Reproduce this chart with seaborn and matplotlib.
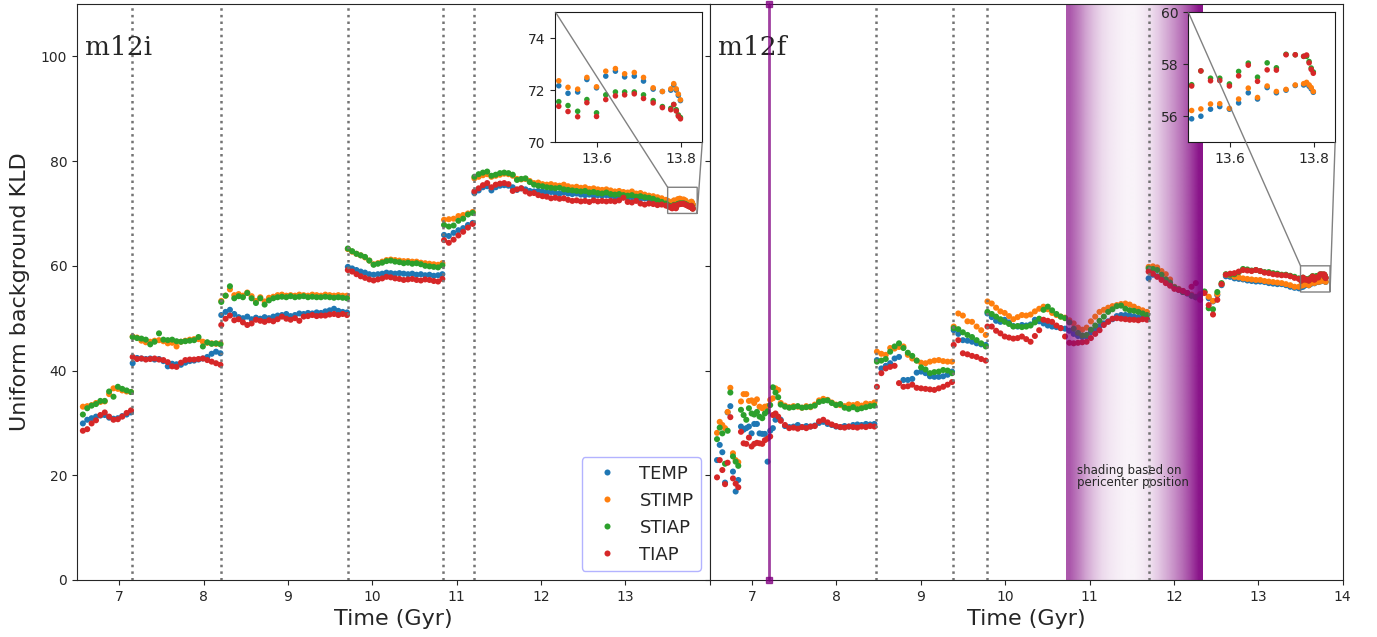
import numpy as np
import pandas as pd
import matplotlib
matplotlib.use("Agg")
import matplotlib.pyplot as plt
import seaborn as sns

# ---------------------------------------------------------------- data
series_names = ["TEMP", "STIMP", "STIAP", "TIAP"]

# ---- m12i (left panel); segments between dotted lines, (start, end) times
m12i_s1_time = (6.57, 7.14)
m12i_s1_TEMP = [29.9, 30.6, 30.9, 31.2, 31.4, 31.5, 31.0, 30.8, 30.9, 31.3, 31.6, 32.0]
m12i_s1_STIMP = [33.1, 33.2, 33.4, 33.8, 34.0, 34.1, 35.5, 36.6, 36.5, 36.2, 36.0, 35.9]
m12i_s1_STIAP = [31.6, 32.8, 33.3, 33.6, 34.2, 34.2, 36.0, 35.0, 36.9, 36.5, 36.2, 35.9]
m12i_s1_TIAP = [28.5, 28.8, 29.9, 30.5, 31.5, 32.0, 31.2, 30.6, 30.7, 31.2, 31.9, 32.4]

m12i_s2_time = (7.16, 8.20)
m12i_s2_TEMP = [41.4, 42.4, 42.3, 42.2, 42.3, 42.1, 42.2, 41.8, 40.8, 41.3, 41.2, 41.1, 41.5, 41.8, 41.9, 42.1, 42.3, 42.6, 43.2, 43.6, 43.3]
m12i_s2_STIMP = [46.5, 46.3, 45.7, 45.4, 45.5, 45.7, 45.8, 45.6, 45.2, 45.3, 44.6, 45.5, 45.7, 45.9, 46.0, 46.0, 45.5, 45.3, 45.2, 45.1, 45.2]
m12i_s2_STIAP = [46.4, 46.2, 46.1, 45.9, 45.0, 45.5, 47.1, 45.9, 45.8, 45.9, 45.6, 45.5, 45.6, 45.7, 45.8, 46.4, 44.6, 45.4, 45.1, 45.2, 45.0]
m12i_s2_TIAP = [42.6, 42.2, 42.3, 42.1, 42.2, 42.3, 42.1, 42.0, 41.6, 40.8, 40.7, 41.5, 42.0, 42.1, 42.1, 42.2, 42.3, 42.0, 41.7, 41.4, 41.1]

m12i_s3_time = (8.21, 9.70)
m12i_s3_TEMP = [50.6, 51.2, 51.6, 50.8, 50.2, 50.0, 50.3, 49.8, 50.1, 49.9, 50.2, 50.0, 50.3, 50.5, 50.6,
                50.8, 50.4, 50.6, 50.9, 50.8, 51.0, 50.9, 51.1, 51.0, 51.3, 51.5, 51.8, 51.4, 51.2, 51.1]
m12i_s3_STIMP = [53.3, 54.3, 55.5, 54.4, 54.6, 54.3, 54.9, 54.2, 53.3, 54.0, 53.2, 53.9, 54.1, 54.4, 54.5,
                 54.3, 54.4, 54.3, 54.5, 54.4, 54.3, 54.5, 54.4, 54.3, 54.5, 54.4, 54.3, 54.4, 54.3, 54.3]
m12i_s3_STIAP = [53.1, 54.3, 56.1, 53.8, 54.2, 54.0, 54.8, 53.8, 52.9, 53.8, 52.6, 53.4, 53.8, 54.0, 54.1,
                 54.0, 54.2, 54.0, 54.1, 54.2, 54.0, 54.1, 54.0, 54.0, 54.1, 54.0, 53.9, 54.0, 53.9, 53.8]
m12i_s3_TIAP = [48.7, 49.9, 50.5, 49.6, 49.8, 49.2, 48.7, 49.0, 49.7, 49.5, 49.3, 49.6, 49.4, 49.8, 50.3,
                49.9, 49.7, 50.0, 49.5, 50.3, 50.4, 50.6, 50.4, 50.5, 50.5, 50.7, 50.8, 50.6, 50.8, 50.6]

m12i_s4_time = (9.71, 10.83)
m12i_s4_TEMP = [59.8, 59.5, 59.2, 58.9, 58.7, 58.4, 58.3, 58.4, 58.5, 58.7, 58.6, 58.5, 58.6, 58.5, 58.4,
                58.5, 58.3, 58.4, 58.2, 58.3, 58.1, 58.2, 58.4]
m12i_s4_STIMP = [63.2, 62.7, 62.3, 62.0, 61.6, 61.0, 60.3, 60.5, 60.8, 61.1, 61.2, 61.1, 61.0, 60.9, 60.9,
                 60.8, 60.8, 60.6, 60.5, 60.4, 60.3, 60.2, 60.5]
m12i_s4_STIAP = [63.3, 62.8, 62.3, 62.0, 61.7, 61.0, 60.2, 60.4, 60.6, 60.9, 61.0, 60.8, 60.7, 60.5, 60.6,
                 60.4, 60.5, 60.3, 60.0, 59.9, 59.8, 59.7, 60.1]
m12i_s4_TIAP = [59.2, 58.9, 58.4, 58.0, 57.7, 57.4, 57.2, 57.4, 57.6, 57.9, 57.8, 57.6, 57.5, 57.3, 57.4,
                57.5, 57.3, 57.2, 57.4, 57.3, 57.1, 57.0, 57.5]

m12i_s5_time = (10.85, 11.19)
m12i_s5_TEMP = [65.9, 65.7, 66.3, 66.8, 67.2, 67.8, 68.2]
m12i_s5_STIMP = [68.8, 68.9, 69.0, 69.5, 69.7, 70.0, 70.3]
m12i_s5_STIAP = [67.8, 67.5, 67.7, 68.6, 69.0, 69.8, 70.1]
m12i_s5_TIAP = [64.9, 64.4, 65.0, 65.8, 66.5, 67.3, 68.0]

m12i_s6_time = (11.21, 13.48)
m12i_s6_TEMP = [73.9, 74.4, 75.0, 75.2, 74.4, 75.0, 75.3, 75.4, 75.3, 75.0, 74.5, 74.8, 74.6, 74.3, 74.2, 74.3,
                74.2, 74.0, 74.1, 73.9, 73.8, 74.0, 73.8, 73.7, 73.8, 73.6, 73.5, 73.6, 73.4, 73.5, 73.4, 73.5,
                73.3, 73.2, 73.3, 73.1, 73.0, 73.1, 72.9, 72.8, 72.9, 72.7, 72.6, 72.5, 72.4, 72.2]
m12i_s6_STIMP = [76.7, 77.0, 77.3, 77.5, 77.0, 77.2, 77.4, 77.6, 77.5, 77.2, 76.6, 76.5, 76.6, 76.2, 75.8, 75.9,
                 75.6, 75.5, 75.6, 75.4, 75.3, 75.5, 75.2, 75.0, 75.1, 74.9, 75.0, 74.7, 74.8, 74.6, 74.5, 74.6,
                 74.4, 74.2, 74.3, 74.1, 74.0, 74.2, 73.8, 73.9, 73.6, 73.4, 73.3, 73.1, 72.9, 72.6]
m12i_s6_STIAP = [77.0, 77.5, 77.8, 78.0, 77.2, 77.4, 77.7, 77.8, 77.7, 77.4, 76.4, 76.6, 76.7, 76.0, 75.5, 75.3,
                 75.2, 75.0, 74.9, 74.8, 74.9, 74.6, 74.5, 74.4, 74.3, 74.2, 74.3, 74.0, 74.1, 73.9, 73.8, 74.0,
                 73.7, 73.6, 73.7, 73.5, 73.4, 73.5, 73.2, 73.3, 73.1, 73.0, 72.8, 72.5, 72.2, 71.9]
m12i_s6_TIAP = [74.2, 74.8, 75.4, 75.8, 75.0, 75.5, 75.7, 75.8, 75.6, 74.3, 74.6, 74.8, 74.2, 73.8, 73.9, 73.5,
                73.3, 73.2, 72.9, 73.0, 72.8, 72.9, 72.6, 72.4, 72.5, 72.3, 72.4, 72.2, 72.5, 72.3, 72.4, 72.3,
                72.4, 72.3, 72.5, 73.0, 72.2, 72.1, 72.4, 71.9, 71.7, 71.9, 71.8, 71.6, 71.7, 71.5]

# final snapshots (seen in the zoom insets)
tail_time = [13.508, 13.530, 13.553, 13.575, 13.598, 13.620, 13.643, 13.665, 13.688, 13.710,
             13.733, 13.755, 13.775, 13.782, 13.788, 13.793, 13.798]
m12i_tail_TEMP = [72.17, 71.88, 71.93, 72.41, 72.09, 72.54, 72.73, 72.51, 72.54, 72.35, 72.04, 71.95,
                  72.00, 72.20, 72.00, 71.80, 71.60]
m12i_tail_STIMP = [72.36, 72.11, 72.04, 72.49, 72.13, 72.73, 72.83, 72.63, 72.68, 72.49, 72.09, 71.95,
                   72.05, 72.25, 72.05, 71.85, 71.63]
m12i_tail_STIAP = [71.56, 71.41, 71.19, 71.64, 71.13, 71.82, 71.93, 71.93, 71.93, 71.82, 71.60, 71.37,
                   71.30, 71.45, 71.25, 71.05, 70.95]
m12i_tail_TIAP = [71.38, 71.18, 70.98, 71.52, 70.99, 71.64, 71.78, 71.82, 71.86, 71.68, 71.51, 71.33,
                  71.25, 71.45, 71.20, 71.00, 70.90]

# ---- m12f (right panel)
m12f_early_time = [6.585, 6.617, 6.648, 6.680, 6.711, 6.743, 6.774, 6.806, 6.837, 6.869, 6.900, 6.932,
                   6.963, 6.995, 7.026, 7.058, 7.089, 7.121, 7.152, 7.184, 7.215, 7.247, 7.278, 7.310]
m12f_early_TEMP = [22.9, 25.8, 24.4, 18.6, 32.0, 33.2, 20.7, 16.9, 19.1, 29.3, 28.7, 29.0,
                   29.3, 28.0, 29.8, 29.8, 28.0, 27.9, 27.9, 22.6, 28.5, 29.0, 30.6, 30.9]
m12f_early_STIMP = [28.1, 30.2, 29.6, 29.0, 32.1, 36.7, 24.2, 22.9, 22.5, 34.1, 35.5, 35.5,
                    34.2, 34.3, 33.8, 34.5, 33.1, 32.8, 33.1, 33.2, 34.4, 34.7, 36.6, 36.3]
m12f_early_STIAP = [26.9, 29.1, 28.0, 22.2, 28.5, 35.8, 23.6, 22.6, 21.8, 32.5, 31.5, 30.6,
                    32.8, 31.8, 31.6, 32.1, 31.2, 30.9, 31.8, 32.2, 33.4, 36.8, 35.8, 34.9]
m12f_early_TIAP = [19.6, 22.9, 21.0, 18.3, 22.4, 31.1, 19.4, 18.4, 17.7, 28.3, 26.1, 26.0,
                   27.2, 25.5, 26.0, 26.2, 26.1, 26.0, 26.7, 27.0, 27.4, 31.5, 31.8, 31.2]

m12f_s1_time = (7.34, 8.45)
m12f_s1_TEMP = [30.6, 29.4, 29.2, 29.3, 29.6, 29.2, 29.4, 29.3, 29.5, 30.0, 30.2, 29.8, 29.6, 29.3, 29.2,
                29.4, 29.3, 29.6, 29.7, 29.6, 29.8, 29.7, 29.8]
m12f_s1_STIMP = [33.8, 33.3, 33.0, 33.2, 33.1, 32.9, 33.2, 33.0, 33.5, 34.3, 34.6, 34.4, 33.9, 33.5, 33.4,
                 33.2, 33.5, 33.4, 33.6, 33.3, 33.7, 33.6, 33.9]
m12f_s1_STIAP = [33.5, 33.1, 32.9, 33.0, 33.2, 32.9, 33.0, 33.1, 33.3, 34.0, 34.2, 34.3, 33.8, 33.4, 33.6,
                 32.9, 32.7, 33.0, 32.6, 32.8, 33.0, 33.2, 33.3]
m12f_s1_TIAP = [30.4, 29.6, 29.0, 29.1, 28.9, 29.2, 29.0, 29.3, 29.4, 30.3, 30.6, 30.1, 29.7, 29.4, 29.2,
                29.1, 29.3, 29.2, 29.1, 29.3, 29.2, 29.4, 29.3]

m12f_s2_time = (8.48, 9.37)
m12f_s2_TEMP = [42.0, 40.4, 40.9, 41.4, 42.3, 42.6, 38.2, 38.2, 38.4, 39.6, 39.8, 39.5, 38.9, 38.8, 38.8, 38.9, 39.2, 39.8]
m12f_s2_STIMP = [43.6, 43.2, 43.0, 44.3, 44.2, 44.5, 44.6, 43.0, 42.3, 41.9, 41.5, 41.4, 41.7, 41.9, 42.0, 41.8, 41.7, 41.7]
m12f_s2_STIAP = [41.7, 41.9, 42.2, 43.6, 44.6, 45.2, 44.3, 43.4, 42.8, 41.9, 40.6, 40.2, 39.5, 39.7, 39.8, 40.1, 40.0, 39.5]
m12f_s2_TIAP = [36.9, 39.5, 40.4, 40.7, 40.9, 37.6, 36.9, 37.0, 37.3, 36.7, 36.6, 36.5, 36.4, 36.3, 36.6, 36.9, 37.3, 37.8]

m12f_s3_time = (9.39, 9.77)
m12f_s3_TEMP = [47.7, 47.0, 45.8, 45.7, 45.5, 45.2, 45.0, 44.9]
m12f_s3_STIMP = [48.4, 50.9, 50.5, 49.4, 49.3, 48.4, 47.7, 46.8]
m12f_s3_STIAP = [48.1, 47.9, 47.3, 46.8, 46.4, 45.8, 45.2, 44.6]
m12f_s3_TIAP = [44.9, 45.8, 43.3, 43.1, 42.8, 42.6, 42.2, 41.9]

m12f_s4_time = (9.79, 11.68)
m12f_s4_TEMP = [50.9, 50.2, 49.5, 49.3, 49.7, 49.2, 48.5, 48.4, 48.7, 48.6, 48.8, 49.7, 49.4, 49.0, 48.6, 48.4,
                48.3, 48.1, 48.0, 47.6, 47.0, 46.6, 46.4, 46.5, 47.3, 47.8, 48.5, 49.0, 49.4, 49.8, 50.4, 50.6,
                50.6, 50.5, 50.3, 50.2, 50.0, 49.9]
m12f_s4_STIMP = [53.2, 52.8, 52.0, 51.3, 51.0, 50.4, 49.8, 50.2, 50.6, 50.5, 50.7, 51.3, 51.8, 52.2, 51.7, 51.0,
                 50.6, 50.3, 50.1, 49.6, 49.0, 48.2, 47.8, 48.2, 49.4, 50.3, 51.2, 51.6, 52.0, 52.3, 52.5, 52.7,
                 52.8, 52.6, 52.2, 51.8, 51.5, 51.2]
m12f_s4_STIAP = [51.2, 50.8, 50.3, 49.8, 49.3, 48.9, 48.4, 48.5, 48.3, 48.4, 48.6, 49.2, 49.9, 51.6, 52.2, 51.5,
                 50.8, 50.3, 50.0, 49.2, 48.0, 47.2, 46.7, 46.8, 47.8, 48.6, 49.5, 50.3, 51.2, 51.7, 52.3, 52.4,
                 51.8, 51.5, 51.4, 51.2, 50.9, 50.6]
m12f_s4_TIAP = [48.4, 48.4, 47.6, 47.1, 46.5, 46.3, 46.1, 46.2, 46.5, 46.0, 45.5, 46.6, 47.7, 49.7, 49.5, 49.3,
                48.6, 48.1, 46.5, 45.3, 45.2, 45.3, 45.4, 45.5, 46.2, 47.0, 47.7, 48.7, 49.3, 49.9, 50.0, 49.9,
                49.8, 49.7, 49.7, 49.6, 49.8, 49.7]

m12f_s5_time = (11.70, 13.48)
m12f_s5_TEMP = [57.6, 58.3, 58.0, 57.6, 57.0, 56.4, 55.8, 55.4, 55.0, 54.7, 54.3, 54.0, 54.4, 55.0, 53.8, 53.2,
                54.4, 56.3, 58.0, 57.9, 57.6, 57.5, 57.4, 57.2, 57.1, 57.0, 57.0, 56.9, 56.7, 56.6, 56.5, 56.5,
                56.3, 56.0, 55.8, 55.7]
m12f_s5_STIMP = [59.8, 59.9, 59.7, 59.0, 58.4, 57.4, 56.0, 55.6, 55.2, 54.8, 54.5, 54.1, 54.6, 55.0, 54.1, 53.3,
                 54.6, 56.5, 58.3, 58.2, 57.9, 57.8, 57.6, 57.5, 57.4, 57.3, 57.3, 57.1, 57.0, 56.9, 56.8, 56.7,
                 56.5, 56.3, 56.0, 56.0]
m12f_s5_STIAP = [59.5, 59.4, 59.2, 58.3, 57.4, 56.8, 55.9, 55.5, 55.0, 54.8, 54.3, 54.0, 54.3, 55.1, 51.9, 51.7,
                 55.0, 56.7, 58.4, 58.3, 58.4, 58.8, 59.4, 59.3, 59.1, 59.2, 59.0, 58.8, 58.8, 58.6, 58.5, 58.3,
                 58.3, 58.1, 57.9, 57.6]
m12f_s5_TIAP = [58.9, 58.5, 57.9, 57.3, 56.7, 56.2, 55.6, 55.4, 55.2, 54.8, 56.0, 56.7, 53.5, 54.8, 52.5, 50.7,
                53.5, 56.5, 58.3, 58.5, 58.6, 58.9, 59.2, 59.1, 59.0, 59.2, 59.0, 58.7, 58.6, 58.4, 58.3, 58.2,
                58.2, 58.0, 57.7, 57.5]

m12f_tail_TEMP = [55.90, 56.00, 56.27, 56.37, 56.27, 56.51, 56.90, 56.66, 57.10, 56.90, 57.00, 57.18,
                  57.20, 57.25, 57.15, 57.05, 56.92]
m12f_tail_STIMP = [56.22, 56.28, 56.47, 56.48, 56.30, 56.66, 57.08, 56.72, 57.16, 56.95, 57.03, 57.20,
                   57.25, 57.30, 57.20, 57.10, 56.95]
m12f_tail_STIAP = [57.21, 57.74, 57.46, 57.46, 57.24, 57.72, 58.04, 57.50, 58.05, 57.86, 58.38, 58.36,
                   58.30, 58.30, 58.10, 57.85, 57.70]
m12f_tail_TIAP = [57.16, 57.74, 57.36, 57.37, 57.16, 57.55, 57.96, 57.34, 57.78, 57.77, 58.36, 58.36,
                  58.30, 58.35, 58.05, 57.80, 57.65]

# event markers
m12i_dotted = [7.158, 8.21, 9.71, 10.84, 11.21]
m12f_dotted = [8.475, 9.38, 9.79, 11.70]
m12f_event_time = 7.20
shade_start, shade_end = 10.72, 12.34
shade_alpha = [0.66, 0.52, 0.36, 0.24, 0.15, 0.10, 0.07, 0.05, 0.05, 0.08, 0.13, 0.22,
               0.33, 0.45, 0.58, 0.74, 0.92]

# ------------------------------------------------------- assemble tables
def panel_frame(prefix, early_time=None):
    g = globals()
    rows = []
    for name in series_names:
        if early_time is not None:
            vals = g[f"{prefix}_early_{name}"]
            rows += [(t, v, name) for t, v in zip(early_time, vals)]
        k = 1
        while f"{prefix}_s{k}_time" in g:
            t0, t1 = g[f"{prefix}_s{k}_time"]
            vals = g[f"{prefix}_s{k}_{name}"]
            ts = np.linspace(t0, t1, len(vals))
            rows += [(t, v, name) for t, v in zip(ts, vals)]
            k += 1
        vals = g[f"{prefix}_tail_{name}"]
        rows += [(t, v, name) for t, v in zip(tail_time, vals)]
    return pd.DataFrame(rows, columns=["time", "kld", "series"])

df_m12i = panel_frame("m12i")
df_m12f = panel_frame("m12f", m12f_early_time)

# --------------------------------------------------------------- figure
sns.set_style("ticks")
plt.rcParams["font.family"] = ["DejaVu Sans"]
palette = dict(zip(series_names, sns.color_palette("tab10", 4)))

fig = plt.figure(figsize=(13.77, 6.37), dpi=100)
gs = fig.add_gridspec(1, 2, left=0.0559, right=0.9751, top=0.9937, bottom=0.0895, wspace=0)
ax1 = fig.add_subplot(gs[0])
ax2 = fig.add_subplot(gs[1], sharey=ax1)

def draw(ax, df, legend):
    sns.scatterplot(data=df, x="time", y="kld", hue="series", hue_order=series_names,
                    palette=palette, s=19, linewidth=0, ax=ax, legend=legend, zorder=2)

draw(ax1, df_m12i, True)
draw(ax2, df_m12f, False)

for t in m12i_dotted:
    ax1.axvline(t, color="0.45", ls=":", lw=1.8, zorder=3)
for t in m12f_dotted:
    ax2.axvline(t, color="0.45", ls=":", lw=1.8, zorder=3)

# pericenter shading
rgba = np.zeros((1, len(shade_alpha), 4))
rgba[..., 0] = 128 / 255
rgba[..., 2] = 128 / 255
rgba[0, :, 3] = shade_alpha
ax2.imshow(rgba, extent=[shade_start, shade_end, 0, 110], aspect="auto",
           interpolation="bilinear", zorder=2.5)
ax2.text(10.85, 19.8, "shading based on\npericenter position", fontsize=8.5,
         va="center", ha="left", linespacing=0.9, zorder=5)

ax2.plot([m12f_event_time, m12f_event_time], [0, 110], color="purple", alpha=0.75,
         lw=2, marker="s", ms=4, clip_on=False, zorder=4)

for ax, name in [(ax1, "m12i"), (ax2, "m12f")]:
    ax.set_xlim(6.5, 14.0)
    ax.set_ylim(0, 110)
    ax.set_yticks([0, 20, 40, 60, 80, 100])
    ax.set_xlabel("Time (Gyr)", fontsize=16)
    ax.tick_params(labelsize=10)
    ax.text(0.013, 0.925, name, transform=ax.transAxes, family="DejaVu Serif",
            fontsize=19, ha="left", va="center")
    for sp in ax.spines.values():
        sp.set_visible(True)

ax1.set_xticks([7, 8, 9, 10, 11, 12, 13, 14])
ax1.set_xticklabels(["7", "8", "9", "10", "11", "12", "13", ""])
ax2.set_xticks([7, 8, 9, 10, 11, 12, 13, 14])
ax1.set_ylabel("Uniform background KLD", fontsize=16, labelpad=8)
ax2.set_ylabel("")
ax2.tick_params(labelleft=False)

handles, labels = ax1.get_legend_handles_labels()
ax1.legend(handles, labels, loc="lower right", fontsize=13, edgecolor=(0.7, 0.7, 1.0),
           framealpha=1, title=None)

# zoom insets
for ax, df, ylim, yt in [(ax1, df_m12i, (70, 75), [70, 72, 74]),
                         (ax2, df_m12f, (55, 60), [56, 58, 60])]:
    axins = ax.inset_axes([0.756, 0.760, 0.232, 0.226])
    sns.scatterplot(data=df, x="time", y="kld", hue="series", hue_order=series_names,
                    palette=palette, s=16, linewidth=0, ax=axins, legend=False)
    axins.set_xlim(13.5, 13.85)
    axins.set_ylim(*ylim)
    axins.set_yticks(yt)
    axins.set_xticks([13.6, 13.8])
    axins.set_xlabel("")
    axins.set_ylabel("")
    axins.tick_params(labelsize=10)
    for sp in axins.spines.values():
        sp.set_visible(True)
        sp.set_color("0.1")
    ind = ax.indicate_inset_zoom(axins, edgecolor="0.45", alpha=0.9)
    conns = ind.connectors
    for i, c in enumerate(conns):
        c.set_visible(i in (1, 2))
    ind.set_zorder(6)

fig.savefig("out.png", dpi=100)
